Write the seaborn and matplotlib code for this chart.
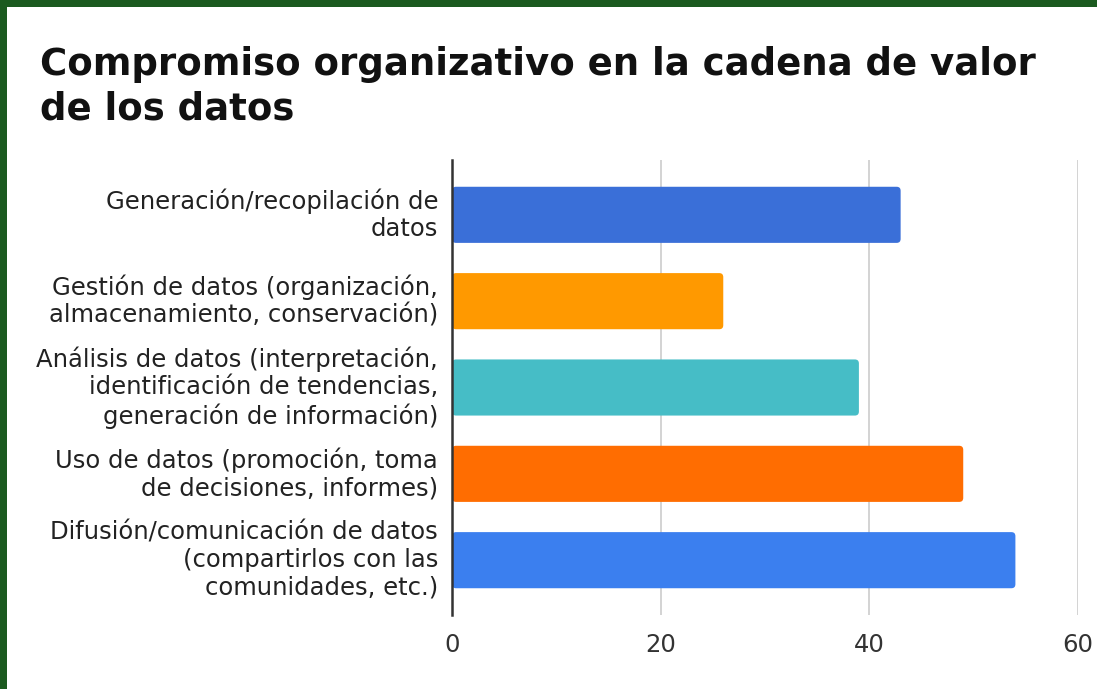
import matplotlib
matplotlib.use("Agg")
import matplotlib.pyplot as plt
from matplotlib.patches import FancyBboxPatch, Rectangle
import seaborn as sns
import pandas as pd

# Chart data
categories = [
    "Generación/recopilación de\ndatos",
    "Gestión de datos (organización,\nalmacenamiento, conservación)",
    "Análisis de datos (interpretación,\nidentificación de tendencias,\ngeneración de información)",
    "Uso de datos (promoción, toma\nde decisiones, informes)",
    "Difusión/comunicación de datos\n(compartirlos con las\ncomunidades, etc.)",
]
values = [43, 26, 39, 49, 54]
bar_colors = ["#3a6fd8", "#ff9900", "#46bdc6", "#ff6d01", "#3b7fef"]
x_ticks = [0, 20, 40, 60]
title = "Compromiso organizativo en la cadena de valor\nde los datos"

df = pd.DataFrame({"etapa": categories, "valor": values})

sns.set_theme(style="white")
plt.rcParams["font.family"] = ["DejaVu Sans"]

fig = plt.figure(figsize=(10.97, 6.89), dpi=100)
fig.patch.set_facecolor("white")

# dark green frame on the top and left edges
fig.patches.append(Rectangle((0, 1 - 7 / 689), 1, 7 / 689, transform=fig.transFigure,
                             facecolor="#1b5a1f", edgecolor="none", zorder=10))
fig.patches.append(Rectangle((0, 0), 7 / 1097, 1, transform=fig.transFigure,
                             facecolor="#1b5a1f", edgecolor="none", zorder=10))

ax = fig.add_axes([452 / 1097, 1 - 615 / 689, 626 / 1097, 455 / 689])

sns.barplot(data=df, x="valor", y="etapa", hue="etapa", palette=bar_colors,
            orient="h", width=0.65, legend=False, ax=ax, saturation=1)

# swap plain rectangles for bars with softly rounded corners
px_x = 626 / 60
px_y = 455 / 5.27
for p in list(ax.patches):
    x0, y0 = p.get_x(), p.get_y()
    w, h = p.get_width(), p.get_height()
    fc = p.get_facecolor()
    p.set_visible(False)
    r = 4 / px_x
    fb = FancyBboxPatch((x0, y0), w, h,
                        boxstyle=f"round,pad=0,rounding_size={r}",
                        mutation_aspect=px_x / px_y,
                        facecolor=fc, edgecolor="none", zorder=2)
    ax.add_patch(fb)

ax.set_xlim(0, 60)
ax.set_ylim(4.635, -0.635)
ax.set_xticks(x_ticks)
ax.set_xticklabels([str(t) for t in x_ticks])
ax.set_xlabel("")
ax.set_ylabel("")

ax.grid(axis="x", color="#cccccc", linewidth=1.2, zorder=0)
ax.set_axisbelow(True)
for s in ["top", "right", "bottom"]:
    ax.spines[s].set_visible(False)
ax.spines["left"].set_color("#333333")
ax.spines["left"].set_linewidth(1.8)
ax.spines["left"].set_zorder(3)

ax.tick_params(axis="both", length=0)
ax.tick_params(axis="y", labelsize=17.5, labelcolor="#222222", pad=10)
ax.tick_params(axis="x", labelsize=17.5, labelcolor="#333333", pad=13)
for lbl in ax.get_yticklabels():
    lbl.set_horizontalalignment("right")
    lbl.set_multialignment("right")
    lbl.set_linespacing(1.2)
    lbl.set_verticalalignment("center")

fig.text(40 / 1097, 1 - 46 / 689, title, ha="left", va="top",
         fontsize=26.7, fontweight="bold", family=["DejaVu Sans"],
         color="#111111", linespacing=1.25)

fig.savefig("out.png", dpi=100, facecolor="white")
